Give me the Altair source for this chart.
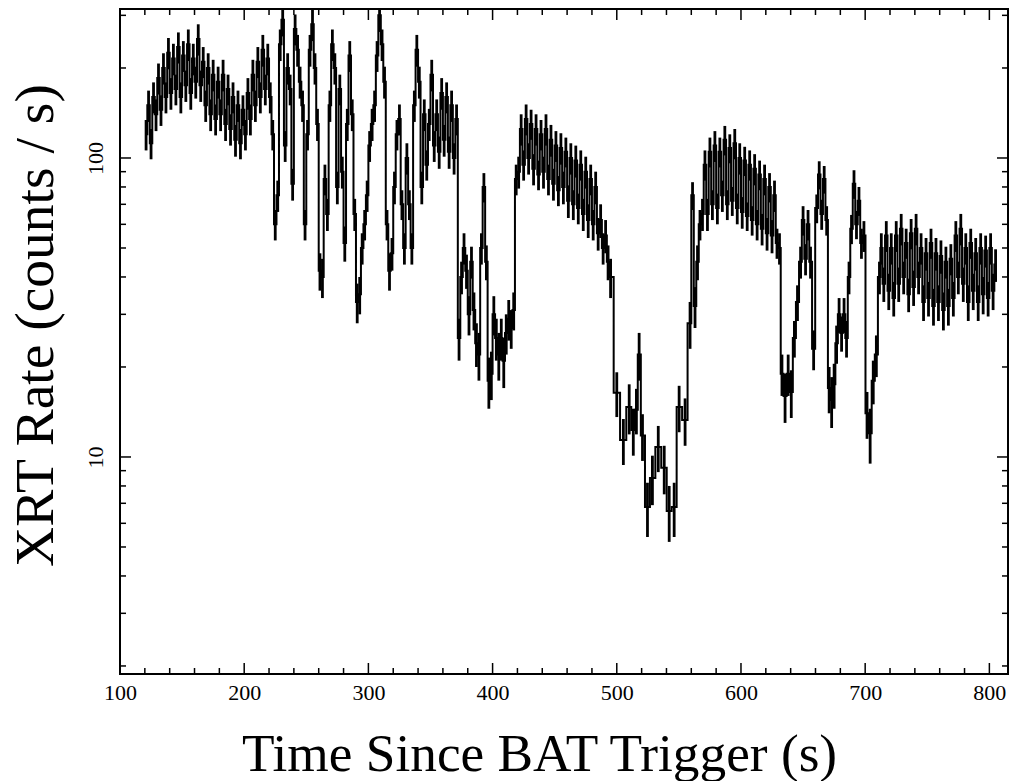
import altair as alt
import pandas as pd

# ---- light-curve values (bin centre [s], rate [counts/s], 1-sigma error) ----
time_a = [121,123,125,127,129,131,133,135,137,139,
          141,143,145,147,149,151,153,155,157,159,
          161,163,165,167,169,171,173,175,177,179,
          181,183,185,187,189,191,193,195,197,199,
          201,203,205,207,209,211,213,215,217,219,
          221,223,225,227,229,231,233,235,237,239,
          241,243,245,247,249,251,253,255,257,259,
          261,263,265,267,269,271,273,275,277,279,
          281,283,285,287,289,291,293,295,297,299,
          301,303,305,307,309,311,313,315,317,319,
          321,323,325,327,329,331,333,335,337,339,
          341,343,345,347,349,351,353,355,357,359,
          361,363,365,367,369,371]
rate_a = [120,150,112,160,140,185,145,200,160,225,
          165,215,170,235,160,220,175,240,165,215,
          180,250,175,210,150,200,140,190,135,180,
          140,190,130,170,125,160,115,150,112,145,
          120,165,135,190,150,210,160,230,170,215,
          160,120,60,75,240,290,110,200,170,82,
          270,230,180,150,60,120,230,280,200,130,
          42,40,85,65,150,240,200,80,170,90,
          52,130,220,140,65,33,35,50,60,75,
          110,130,150,220,300,240,180,60,42,48,
          80,120,135,70,50,100,70,50,150,230,
          180,80,140,95,130,190,110,140,105,165,
          115,160,105,150,100,135]
err_a = [14,18,13,19,17,22,17,24,19,27,
         20,26,20,28,19,26,21,29,20,26,
         22,30,21,25,18,24,17,23,16,22,
         17,23,16,20,15,19,14,18,13,17,
         14,20,16,23,18,25,19,28,20,26,
         19,14,7,9,29,35,13,24,20,10,
         32,28,22,18,7,14,28,34,24,16,
         6,6,10,8,18,29,24,10,20,11,
         7,16,26,17,8,5,5,6,7,9,
         13,16,18,26,36,29,22,7,6,6,
         10,14,16,8,6,12,8,6,18,28,
         22,10,17,11,16,23,13,17,13,20,
         14,19,13,18,12,16]

time_b = [373,375,377,379,381,383,385,387,389,391,
          393,395,397,399,401,403,405,407,409,411,
          413,415,417,419]
rate_b = [25,40,50,42,30,45,31,24,22,50,
          80,45,18,19,30,25,22,25,21,26,
          29,27,31,85]
err_b = [4,5,6,5.5,4.5,5.5,4.5,4,4,6,
         9,6,3.5,3.5,4.5,4,4,4,4,4,
         4.5,4,4.5,10]

time_c = [421,423,425,427,429,431,433,435,437,439,
          441,443,445,447,449,451,453,455,457,459,
          461,463,465,467,469,471,473,475,477,479,
          481,483,485,487,489,491,493,495]
rate_c = [90,125,95,135,100,130,92,125,88,120,
          90,125,85,115,82,110,78,108,80,105,
          72,100,70,98,68,95,65,90,62,85,
          60,80,56,62,50,55,45,40]
err_c = [11,15,11,16,12,15,11,15,10,14,
         11,15,10,14,10,13,9,13,10,12,
         9,12,8,12,8,11,8,11,8,10,
         7,10,7,8,6,7,6,6]

time_d = [500,505.3,510,513.3,515.8,518,520.7,524.7,528.7,533.4,
          538.2,542.2,546.2,550.2,555,559]
rate_d = [16.4,11.4,14.7,12.3,14.4,22,11.8,6.8,8.5,10.8,
          9.2,6.6,6.8,14.7,13.3,28]
err_d = [2.8,2.0,2.8,2.2,2.5,4.0,2.1,1.4,1.6,1.9,
         1.7,1.4,1.4,2.6,2.4,5]

time_e = [561,563,565,567,569,571,573,575,577,579,
          581,583,585,587,589,591,593,595,597,599,
          601,603,605,607,609,611,613,615,617,619,
          621,623,625,627,629,631]
rate_e = [75,32,45,60,65,95,65,105,70,110,
          68,105,75,115,70,108,72,112,68,100,
          66,98,64,95,62,92,60,88,58,85,
          56,80,55,75,52,50]
err_e = [8,5,6,7,8,11,8,12,8,13,
         8,12,9,13,8,12,8,13,8,12,
         8,11,7,11,7,11,7,10,7,10,
         7,9,7,9,6,6]

time_f = [633,635.5,638,640.5,643,645.5,648,650,652,654,
          656,658.5,661,663,665,667,669,671,673,675,
          677,679,681,683,685,687,689,691,693,695,
          697,699,701.5,704,706.5,709,711.5]
rate_f = [19,16,19,16.5,25,33,45,62,46,60,
          45,23,68,88,65,85,62,17,15.5,17.5,
          24,30,26,30,25,40,58,82,60,72,
          52,55,14,12,18,22,40]
err_f = [3,3,3,3,3.5,4.5,5.5,7,5.5,7,
         5.5,3.5,7.5,9.5,7.5,9,7,3,3,3,
         3.5,4,3.5,4,3.5,5,6.5,9,6.5,8,
         6,6.5,2.5,2.5,3,3.5,5]

time_g = [713,715,717,719,721,723,725,727,729,731,
          733,735,737,739,741,743,745,747,749,751,
          753,755,757,759,761,763,765,767,769,771,
          773,775,777,779,781,783,785,787,789,791,
          793,795,797,799,801,803,805]
rate_g = [50,38,55,36,50,34,55,38,58,40,
          52,35,56,37,58,40,50,33,48,34,
          52,32,48,33,47,31,45,32,46,34,
          55,40,58,38,50,33,52,36,48,33,
          50,35,49,34,50,36,44]
err_g = [6,5,6.5,5,6,4.5,6.5,5,7,5,
         6,4.5,6.5,5,7,5,6,4.5,6,4.5,
         6,4.5,6,4.5,6,4.5,5.5,4.5,5.5,4.5,
         6.5,5,7,5,6,4.5,6,5,6,4.5,
         6,5,6,4.5,6,5,5.5]

# ---- axis tick values ----
x_major = [100, 200, 300, 400, 500, 600, 700, 800]
x_minor = [120, 140, 160, 180, 220, 240, 260, 280, 320, 340, 360, 380,
           420, 440, 460, 480, 520, 540, 560, 580, 620, 640, 660, 680,
           720, 740, 760, 780]
y_major = [10, 100]
y_minor = [2, 3, 4, 5, 6, 7, 8, 9, 20, 30, 40, 50, 60, 70, 80, 90, 200, 300]

time_s = time_a + time_b + time_c + time_d + time_e + time_f + time_g
rate = rate_a + rate_b + rate_c + rate_d + rate_e + rate_f + rate_g
err = err_a + err_b + err_c + err_d + err_e + err_f + err_g

df = pd.DataFrame({"t": time_s, "rate": rate, "err": err})
df["lo"] = df["rate"] - df["err"]
df["hi"] = df["rate"] + df["err"]

W, H = 888, 665
FONT = "Liberation Serif"
xscale = alt.Scale(domain=[100, 815], nice=False, zero=False)
yscale = alt.Scale(type="log", domain=[1.88, 315], nice=False)

xaxis = alt.Axis(values=x_major, ticks=False, tickSize=0, domain=False, grid=False,
                 labelFont=FONT, labelFontSize=22, labelColor="black", labelPadding=8,
                 labelFlush=False, labelOverlap=False,
                 title="Time Since BAT Trigger (s)", titleFont=FONT, titleFontSize=53.3,
                 titleFontWeight="normal", titleColor="black",
                 titleX=419, titleY=96, titleAlign="center", titleBaseline="alphabetic")
yaxis = alt.Axis(values=y_major, format="d", ticks=False, tickSize=0, domain=False, grid=False,
                 labelFont=FONT, labelFontSize=22, labelColor="black", labelPadding=13,
                 labelFlush=False, labelOverlap=False,
                 labelAngle=270, labelAlign="center", labelBaseline="bottom",
                 title="XRT Rate (counts / s)", titleFont=FONT, titleFontSize=55.5,
                 titleFontWeight="normal", titleColor="black", titleAngle=270,
                 titleX=-68, titleY=316, titleAlign="center", titleBaseline="alphabetic")

X_T = alt.X("t:Q", scale=xscale, axis=xaxis)
errbars = alt.Chart(df).mark_rule(color="black", strokeWidth=2.8, clip=True).encode(
    x=X_T,
    y=alt.Y("lo:Q", scale=yscale, axis=yaxis),
    y2="hi:Q",
)
steps = alt.Chart(df).mark_line(color="black", strokeWidth=2, interpolate="step", clip=True).encode(
    x=X_T,
    y=alt.Y("rate:Q", scale=yscale, axis=yaxis),
)

def xticks(vals, length):
    d = pd.DataFrame({"t": vals})
    bottom = alt.Chart(d).mark_rule(color="black", strokeWidth=1.5).encode(
        x=X_T, y=alt.value(H), y2=alt.value(H - length))
    top = alt.Chart(d).mark_rule(color="black", strokeWidth=1.5).encode(
        x=X_T, y=alt.value(0), y2=alt.value(length))
    return [bottom, top]

def yticks(vals, length):
    d = pd.DataFrame({"lo": vals})
    left = alt.Chart(d).mark_rule(color="black", strokeWidth=1.5).encode(
        y=alt.Y("lo:Q", scale=yscale, axis=yaxis), x=alt.value(0), x2=alt.value(length))
    right = alt.Chart(d).mark_rule(color="black", strokeWidth=1.5).encode(
        y=alt.Y("lo:Q", scale=yscale, axis=yaxis), x=alt.value(W), x2=alt.value(W - length))
    return [left, right]

layers = [errbars, steps] + xticks(x_major, 11) + xticks(x_minor, 6) + yticks(y_major, 11) + yticks(y_minor, 6)

chart = alt.layer(*layers).properties(
    width=W, height=H,
    padding={"left": 120, "top": 9, "right": 2, "bottom": 107},
    autosize=alt.AutoSizeParams(type="none"),
    background="white",
).configure_view(stroke="black", strokeWidth=2)

chart.save("out.html", embed_options={"renderer": "svg", "actions": False})
